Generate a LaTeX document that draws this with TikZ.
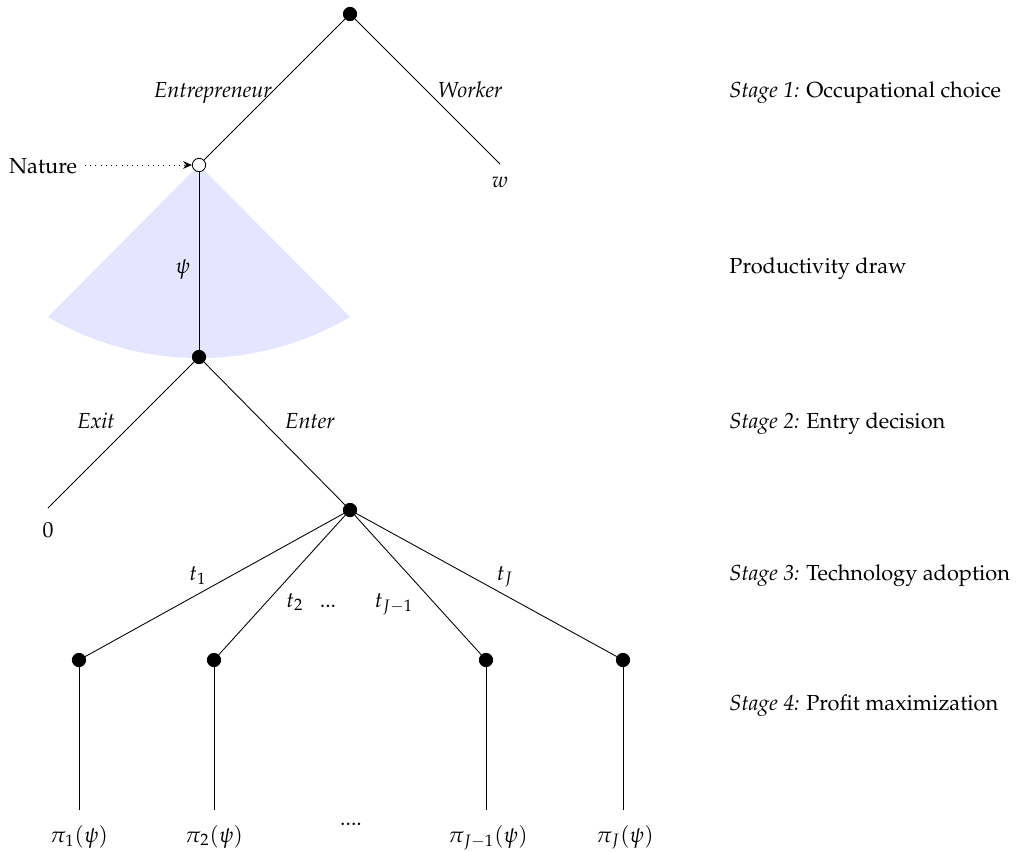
\documentclass[tikz,border=0pt]{standalone}
\usepackage[T1]{fontenc}
\usepackage{mathpazo}
\usetikzlibrary{arrows.meta}
\begin{document}
\begin{tikzpicture}[x=0.01614cm,y=-0.01614cm,
  dec/.style={circle,fill=black,draw=black,inner sep=0pt,minimum size=0.215cm},
  chance/.style={circle,fill=white,draw=black,inner sep=0pt,minimum size=0.215cm},
  branch/.style={draw=black,line width=0.4pt},
  lab/.style={anchor=base,inner sep=0pt},
  stagelab/.style={anchor=base west,inner sep=0pt}]
\path[use as bounding box] (0,0) rectangle (1016,852);
% productivity wedge
\fill[blue!10] (199,165) -- (48,317) arc[start angle=120.4,end angle=59.6,radius=298.6] -- cycle;
% nodes
\node[dec] (root) at (350,14) {};
\node[chance] (nat) at (199,165) {};
\coordinate (wend) at (500,164);
\node[dec] (psi) at (199,357) {};
\coordinate (exitend) at (48,508);
\node[dec] (ent) at (350,510) {};
\node[dec] (a1) at (79,660) {};
\node[dec] (a2) at (214,660) {};
\node[dec] (a3) at (486,660) {};
\node[dec] (a4) at (623,660) {};
\coordinate (e1) at (79,810);
\coordinate (e2) at (214,810);
\coordinate (e3) at (486,810);
\coordinate (e4) at (623,810);
% edges
\draw[branch] (root) -- (nat);
\draw[branch] (root) -- (wend);
\draw[branch] (nat) -- (psi);
\draw[branch] (psi) -- (exitend);
\draw[branch] (psi) -- (ent);
\draw[branch] (ent) -- (a1);
\draw[branch] (ent) -- (a2);
\draw[branch] (ent) -- (a3);
\draw[branch] (ent) -- (a4);
\draw[branch] (a1) -- (e1);
\draw[branch] (a2) -- (e2);
\draw[branch] (a3) -- (e3);
\draw[branch] (a4) -- (e4);
% nature
\node[lab] (naturelab) at (43,174) {Nature};
\coordinate (ns) at (85,165);
\draw[dotted,-{Stealth[length=4pt,width=3.5pt]}] (ns) -- (nat.west);
% branch labels
\node[lab] (lentre) at (213,98) {\textit{Entrepreneur}};
\node[lab] (lwork) at (470,98) {\textit{Worker}};
\node[lab] (lw) at (500,188) {$w$};
\node[lab] (lpsi) at (183,273) {$\psi$};
\node[lab] (lexit) at (96,428) {\textit{Exit}};
\node[lab] (lenter) at (310,428) {\textit{Enter}};
\node[lab] (lzero) at (48,537) {$0$};
\node[lab] (lt1) at (198,580) {$t_1$};
\node[lab] (lt2) at (295,607) {$t_2$};
\node[lab] (ldots) at (328,607) {...};
\node[lab] (ltj1) at (394,607) {$t_{J-1}$};
\node[lab] (ltj) at (505,580) {$t_J$};
% payoffs
\node[lab] (p1) at (79,842) {$\pi_1(\psi)$};
\node[lab] (p2) at (214,842) {$\pi_2(\psi)$};
\node[lab] (pd) at (351,825) {....};
\node[lab] (p3) at (488,842) {$\pi_{J-1}(\psi)$};
\node[lab] (p4) at (625,842) {$\pi_J(\psi)$};
% stage labels
\node[stagelab] (s1) at (729,98) {\textit{Stage 1:} Occupational choice};
\node[stagelab] (s0) at (729,273) {Productivity draw};
\node[stagelab] (s2) at (729,428) {\textit{Stage 2:} Entry decision};
\node[stagelab] (s3) at (729,580) {\textit{Stage 3:} Technology adoption};
\node[stagelab] (s4) at (729,710) {\textit{Stage 4:} Profit maximization};
\end{tikzpicture}
\end{document}
